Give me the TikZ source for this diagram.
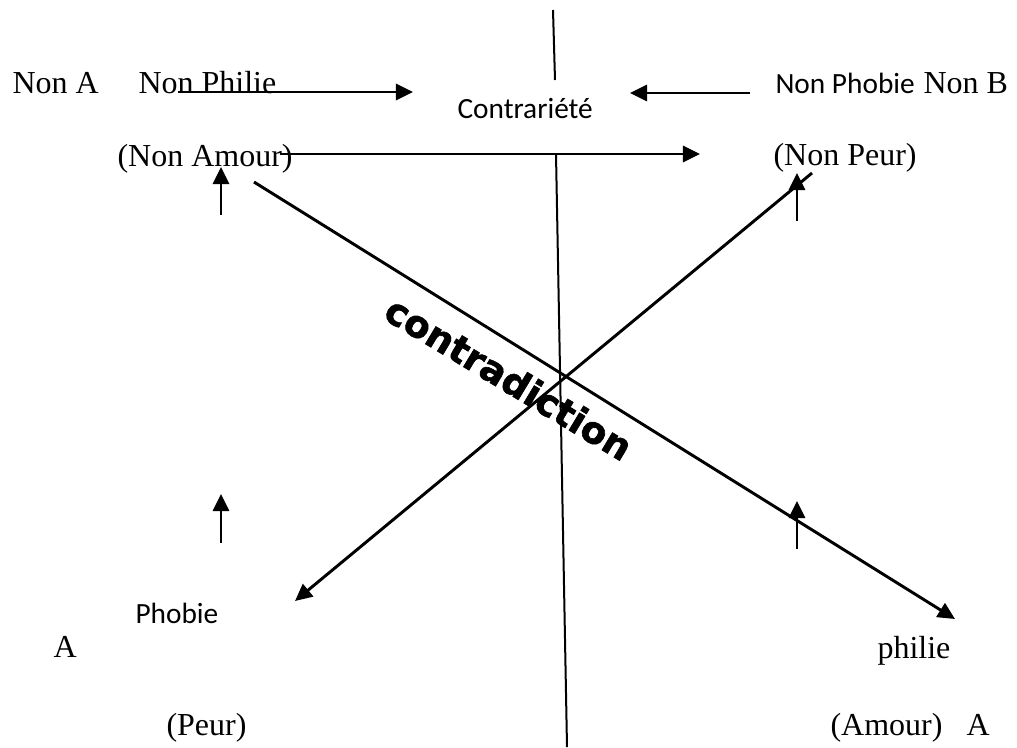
\documentclass[tikz,border=0pt]{standalone}
\usepackage{fontspec}
\setmainfont{Liberation Serif}
\newfontfamily\calib{Carlito}
\newfontfamily\heavy{DejaVu Sans Bold}[FakeBold=1.6]
\usetikzlibrary{arrows.meta}
\begin{document}
\begin{tikzpicture}[x=0.375pt,y=-0.375pt,
  tm/.style={inner sep=0pt, anchor=base west, font=\fontsize{12}{14}\selectfont},
  cb/.style={inner sep=0pt, anchor=base west, font=\calib\fontsize{11}{13}\selectfont},
  arr/.style={line width=1.1pt, -{Triangle[length=6.4pt,width=6pt]}},
  thin/.style={line width=0.75pt},
  thick/.style={line width=1.1pt}]
\useasboundingbox (0,0) rectangle (1017,747);
% texts
\node[tm] (nonA) at (12,93) {Non A};
\node[tm] (nonPhilie) at (138,93) {Non Philie};
\node[cb] (contrariete) at (457,118) {Contrariété};
\node[cb] (nonPhobie) at (775,93) {Non Phobie};
\node[tm] (nonB) at (923,93) {Non B};
\node[tm] (nonAmour) at (117,166) {(Non Amour)};
\node[tm] (nonPeur) at (773,165) {(Non Peur)};
\node[cb] (phobie) at (135,623) {Phobie};
\node[tm] (A1) at (53,657) {A};
\node[tm] (philie) at (877,658) {philie};
\node[tm] (peur) at (166,735) {(Peur)};
\node[tm] (amour) at (830,735) {(Amour)};
\node[tm] (A2) at (966,735) {A};
% coordinates
\coordinate (a1s) at (178,92);  \coordinate (a1e) at (413,92);
\coordinate (a2s) at (750,93);  \coordinate (a2e) at (630,93);
\coordinate (h1) at (280,154);  \coordinate (h2) at (437,154);
\coordinate (h3) at (630,154);  \coordinate (h4) at (700,154);
\coordinate (vt1) at (553,10);  \coordinate (vt2) at (555,80);
\coordinate (vb1) at (556,154); \coordinate (vb2) at (567,747);
\coordinate (u1s) at (221,215); \coordinate (u1e) at (221,167);
\coordinate (u2s) at (797,221); \coordinate (u2e) at (797,173);
\coordinate (u3s) at (221,543); \coordinate (u3e) at (221,494);
\coordinate (u4s) at (797,549); \coordinate (u4e) at (797,501);
\coordinate (d1s) at (254,182); \coordinate (d1e) at (955,619);
\coordinate (d2s) at (812,173); \coordinate (d2e) at (295,601);
% connectors
\draw[arr] (a1s) -- (a1e);
\draw[arr] (a2s) -- (a2e);
\draw[thick] (h1) -- (h2);
\draw[thin] (h2) -- (h3);
\draw[arr] (h3) -- (h4);
\draw[thin] (vt1) -- (vt2);
\draw[thin] (vb1) -- (vb2);
\draw[arr] (u1s) -- (u1e);
\draw[arr] (u2s) -- (u2e);
\draw[arr] (u3s) -- (u3e);
\draw[arr] (u4s) -- (u4e);
\draw[arr] (d1s) -- (d1e);
\draw[arr] (d2s) -- (d2e);
\node[inner sep=0pt, rotate=-31, font=\heavy\fontsize{14}{16}\selectfont] (contra) at (509,378) {contradiction};
\end{tikzpicture}
\end{document}
